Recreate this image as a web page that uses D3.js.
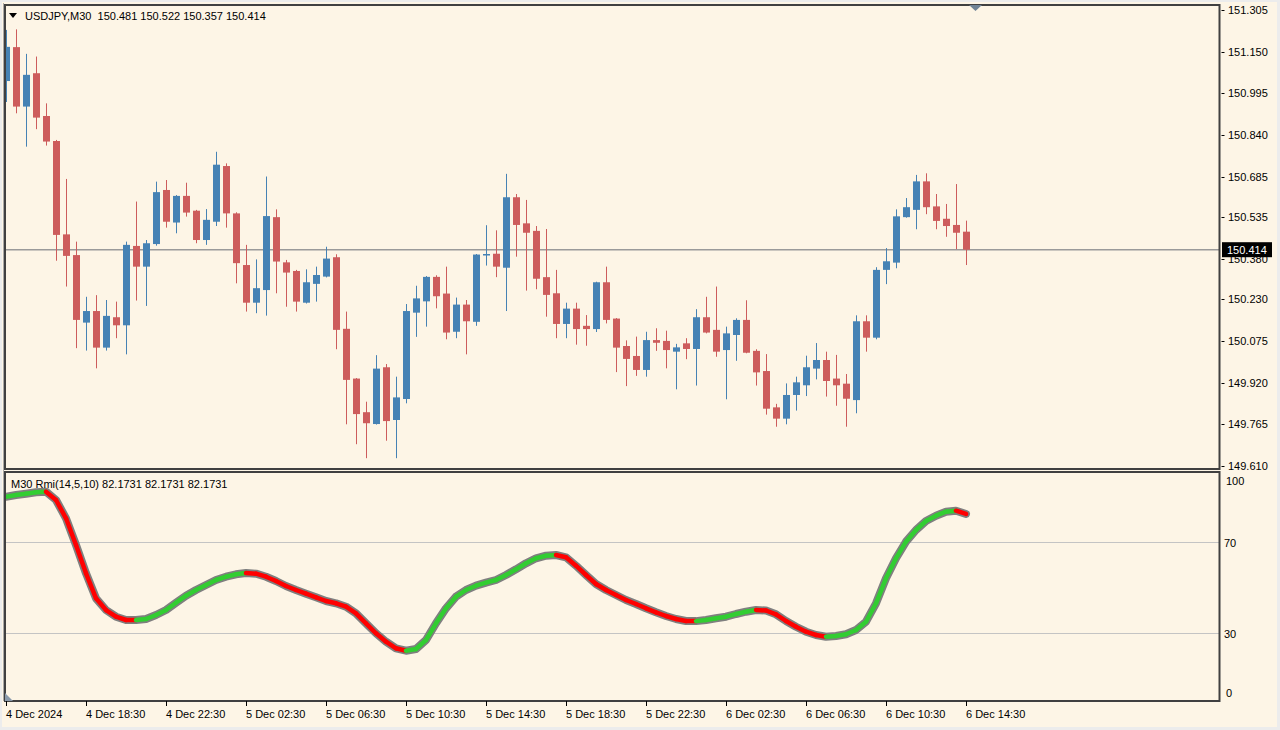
<!DOCTYPE html>
<html>
<head>
<meta charset="utf-8">
<script src="https://cdn.jsdelivr.net/npm/d3@7"></script>
<style>
  html, body { margin: 0; padding: 0; background: #ececec; }
  svg { display: block; }
  text { font-family: "Liberation Sans", Arial, sans-serif; font-size: 11px; fill: #000; }
</style>
</head>
<body>
<div id="chart"></div>
<script>
// USDJPY M30 candles, oldest first
const opens  = [151.041,151.167,150.946,151.070,150.911,150.818,150.471,150.394,150.143,150.186,
                150.050,150.163,150.133,150.428,150.351,150.435,150.636,150.515,150.614,150.559,
                150.450,150.518,150.725,150.549,150.357,150.217,150.264,150.535,150.367,150.335,
                150.217,150.287,150.314,150.386,150.120,149.935,149.810,149.766,149.977,149.781,
                149.859,150.180,150.222,150.313,150.251,150.109,150.210,150.146,150.393,150.399,
                150.347,150.609,150.512,150.484,150.312,150.252,150.138,150.195,150.131,150.119,
                150.293,150.158,150.056,150.019,149.967,150.078,150.075,150.035,150.066,150.045,
                150.163,150.116,150.041,150.097,150.153,150.038,149.963,149.828,149.786,149.874,
                149.910,149.972,150.004,149.935,149.916,149.855,150.148,150.087,150.339,150.366,
                150.535,150.562,150.668,150.575,150.529,150.506,150.481]
const highs  = [151.231,151.233,151.142,151.132,150.958,150.822,150.677,150.444,150.239,150.245,
                150.227,150.221,150.444,150.593,150.450,150.667,150.673,150.617,150.663,150.562,
                150.565,150.778,150.735,150.553,150.432,150.378,150.686,150.564,150.376,150.339,
                150.341,150.351,150.425,150.397,150.184,149.937,149.849,150.022,149.989,149.942,
                150.212,150.280,150.316,150.319,150.351,150.236,150.227,150.398,150.505,150.486,
                150.696,150.621,150.599,150.502,150.491,150.339,150.217,150.217,150.171,150.295,
                150.351,150.160,150.077,150.091,150.109,150.122,150.113,150.064,150.085,150.193,
                150.239,150.277,150.128,150.159,150.226,150.044,150.026,149.841,149.917,149.942,
                150.020,150.067,150.035,150.023,149.952,150.170,150.170,150.349,150.420,150.564,
                150.606,150.692,150.698,150.621,150.584,150.658,150.522]
const lows   = [150.963,150.921,150.797,150.862,150.801,150.373,150.277,150.048,150.039,149.973,
                150.039,150.085,150.025,150.225,150.205,150.429,150.496,150.475,150.537,150.438,
                150.432,150.502,150.496,150.289,150.184,150.178,150.169,150.252,150.202,150.184,
                150.214,150.221,150.311,150.044,149.765,149.691,149.639,149.764,149.704,149.639,
                149.843,150.090,150.128,150.196,150.081,150.085,150.025,150.131,150.355,150.312,
                150.186,150.388,150.262,150.267,150.165,150.085,150.085,150.061,150.057,150.108,
                150.140,149.959,149.907,149.945,149.942,150.038,149.973,149.895,150.007,149.909,
                150.103,150.016,149.858,150.001,150.029,149.909,149.801,149.756,149.765,149.816,
                149.870,149.932,149.868,149.834,149.756,149.806,150.035,150.081,150.286,150.345,
                150.533,150.490,150.546,150.490,150.462,150.416,150.357]
const closes = [151.168,150.946,151.064,150.905,150.816,150.469,150.391,150.153,150.186,150.050,
                150.168,150.133,150.432,150.351,150.438,150.628,150.518,150.614,150.552,150.450,
                150.525,150.730,150.549,150.364,150.217,150.271,150.539,150.370,150.329,150.221,
                150.293,150.320,150.381,150.116,149.930,149.803,149.769,149.972,149.777,149.865,
                150.186,150.233,150.313,150.241,150.106,150.210,150.148,150.396,150.398,150.351,
                150.609,150.506,150.477,150.306,150.246,150.138,150.195,150.119,150.119,150.293,
                150.153,150.050,150.008,149.967,150.078,150.068,150.041,150.051,150.045,150.163,
                150.106,150.035,150.103,150.153,150.031,149.958,149.823,149.786,149.874,149.921,
                149.977,150.004,149.926,149.910,149.860,150.148,150.087,150.339,150.371,150.538,
                150.572,150.668,150.572,150.521,150.502,150.477,150.414]

// Rmi(14,5,10) values per bar
const rmi = [89.76,90.51,91.08,91.70,91.96,88.31,80.27,68.54,56.11,45.12,
             39.98,37.04,35.59,35.55,36.03,37.79,39.98,43.19,46.27,48.77,
             50.97,53.16,54.61,55.67,56.24,55.93,54.61,52.72,50.53,48.77,
             47.14,45.56,43.94,42.93,41.43,38.53,34.14,29.75,26.05,23.15,
             22.10,22.85,26.80,34.14,40.73,45.83,48.77,50.66,51.98,53.16,
             55.36,57.86,60.50,62.70,63.84,64.15,63.14,59.45,55.36,51.41,
             48.77,46.57,44.38,42.62,40.73,38.97,37.35,36.03,35.15,35.10,
             35.59,36.34,37.04,38.22,39.24,39.98,39.76,38.09,35.15,32.64,
             30.45,29.00,28.25,28.56,29.31,31.19,34.84,42.93,53.91,62.70,
             69.99,75.13,79.09,81.41,83.17,83.61,82.17]

const priceTicks = [151.305,151.150,150.995,150.840,150.685,150.535,150.380,150.230,150.075,149.920,149.765,149.610]
const rmiTicks = [100, 70, 30, 0]
const rmiLevels = [70, 30]
const timeLabels = ["4 Dec 2024","4 Dec 18:30","4 Dec 22:30","5 Dec 02:30","5 Dec 06:30","5 Dec 10:30",
                    "5 Dec 14:30","5 Dec 18:30","5 Dec 22:30","6 Dec 02:30","6 Dec 06:30","6 Dec 10:30","6 Dec 14:30"]
const labelEvery = 8
const lastPrice = 150.414

const W = 1280, H = 730
const left = 5, axisX = 1219.5
const main = {top: 5, bottom: 469}
const sub = {top: 472, bottom: 701}
const bg = "#fdf5e6", frame = "#404040"
const bull = "#4682b4", bear = "#cd5c5c"

let svg = d3.select("#chart").append("svg").attr("width", W).attr("height", H)

svg.append("rect").attr("x", 2).attr("y", 2).attr("width", W - 5).attr("height", H - 5).attr("fill", bg)

let x = d3.scaleLinear().domain([0, closes.length - 1]).range([6, 966])
let y = d3.scaleLinear().domain([149.610, 151.305]).range([466, 10])
let yr = d3.scaleLinear().domain([0, 100]).range([sub.bottom, 473.4])

// clip candles / line to their panels
let defs = svg.append("defs")
defs.append("clipPath").attr("id", "mainClip").append("rect")
    .attr("x", left + 1).attr("y", main.top + 1).attr("width", axisX - left - 1).attr("height", main.bottom - main.top - 1)
defs.append("clipPath").attr("id", "subClip").append("rect")
    .attr("x", left + 1).attr("y", sub.top + 1).attr("width", axisX - left - 1).attr("height", sub.bottom - sub.top - 1)

// current price line
svg.append("line")
    .attr("x1", left).attr("x2", axisX)
    .attr("y1", y(lastPrice)).attr("y2", y(lastPrice))
    .attr("stroke", "#9a9a9a").attr("stroke-width", 1.5)

// candles
let bars = svg.append("g").attr("clip-path", "url(#mainClip)")
    .selectAll("g").data(d3.range(closes.length)).enter().append("g")

bars.append("line")
    .attr("x1", i => Math.round(x(i)) + 0.5).attr("x2", i => Math.round(x(i)) + 0.5)
    .attr("y1", i => y(highs[i])).attr("y2", i => y(lows[i]))
    .attr("stroke", i => closes[i] >= opens[i] ? bull : bear)
    .attr("stroke-width", 1)

bars.append("rect")
    .attr("x", i => Math.round(x(i)) - 3)
    .attr("width", 7)
    .attr("y", i => y(Math.max(opens[i], closes[i])))
    .attr("height", i => Math.max(1.5, Math.abs(y(opens[i]) - y(closes[i]))))
    .attr("fill", i => closes[i] >= opens[i] ? bull : bear)

// RMI levels
svg.append("g").selectAll("line").data(rmiLevels).enter().append("line")
    .attr("x1", left).attr("x2", axisX)
    .attr("y1", d => Math.round(yr(d)) + 0.5).attr("y2", d => Math.round(yr(d)) + 0.5)
    .attr("stroke", "#c4c4c4").attr("stroke-width", 1)

// RMI line: gray halo, then up/down coloured segments
let rmiG = svg.append("g").attr("clip-path", "url(#subClip)")
let rmiLine = d3.line().x((d, i) => x(i)).y(d => yr(d))
rmiG.append("path").datum(rmi).attr("d", rmiLine)
    .attr("fill", "none").attr("stroke", "#7f7f7f").attr("stroke-width", 8)
    .attr("stroke-linejoin", "round").attr("stroke-linecap", "round")
rmiG.selectAll("line.seg").data(d3.range(rmi.length - 1)).enter().append("line")
    .attr("class", "seg")
    .attr("x1", i => x(i)).attr("y1", i => yr(rmi[i]))
    .attr("x2", i => x(i + 1)).attr("y2", i => yr(rmi[i + 1]))
    .attr("stroke", i => rmi[i + 1] >= rmi[i] ? "#32cd32" : "#ff0000")
    .attr("stroke-width", 4.5).attr("stroke-linecap", "round")

// frames
let frames = svg.append("g").attr("fill", "none").attr("stroke", frame).attr("stroke-width", 2)
frames.append("rect").attr("x", left).attr("y", main.top).attr("width", axisX - left).attr("height", main.bottom - main.top)
frames.append("rect").attr("x", left).attr("y", sub.top).attr("width", axisX - left).attr("height", sub.bottom - sub.top)
svg.append("line").attr("x1", 3.5).attr("x2", 3.5).attr("y1", 3).attr("y2", sub.bottom)
    .attr("stroke", "#a8a8a8").attr("stroke-width", 1)

// price axis
let pa = svg.append("g")
pa.selectAll("line").data(priceTicks).enter().append("line")
    .attr("x1", axisX + 2).attr("x2", axisX + 5)
    .attr("y1", d => Math.round(y(d)) + 0.5).attr("y2", d => Math.round(y(d)) + 0.5)
    .attr("stroke", "#000")
pa.selectAll("text").data(priceTicks).enter().append("text")
    .attr("x", 1228).attr("y", d => y(d)).attr("dy", "0.36em")
    .text(d => d.toFixed(3))

// last price tag
svg.append("rect").attr("x", 1222).attr("y", y(lastPrice) - 7.5).attr("width", 50).attr("height", 15).attr("fill", "#000")
svg.append("text").attr("x", 1227).attr("y", y(lastPrice)).attr("dy", "0.36em")
    .style("fill", "#fff").text(lastPrice.toFixed(3))

// RMI axis
svg.append("g").selectAll("text").data(rmiTicks).enter().append("text")
    .attr("x", d => d === 70 || d === 30 ? 1224 : 1226)
    .attr("y", d => d === 100 ? 481 : d === 0 ? 693 : yr(d) + 1)
    .attr("dy", "0.36em")
    .text(d => d)

// time axis
let ta = svg.append("g")
let tickIdx = timeLabels.map((t, k) => k * labelEvery)
ta.selectAll("line").data(tickIdx).enter().append("line")
    .attr("x1", i => Math.round(x(i)) + 0.5).attr("x2", i => Math.round(x(i)) + 0.5)
    .attr("y1", sub.bottom).attr("y2", sub.bottom + 5)
    .attr("stroke", "#000")
ta.selectAll("text").data(tickIdx).enter().append("text")
    .attr("x", i => Math.round(x(i))).attr("y", 718)
    .text((i, k) => timeLabels[k])

// titles
svg.append("path").attr("d", "M9,13 L17,13 L13,18 Z").attr("fill", "#000")
svg.append("text").attr("x", 25).attr("y", 20)
    .text("USDJPY,M30  " + [opens, highs, lows, closes].map(a => a[a.length - 1].toFixed(3)).join(" "))
    .attr("xml:space", "preserve").style("white-space", "pre")
svg.append("text").attr("x", 11).attr("y", 488)
    .text("M30 Rmi(14,5,10) " + d3.range(3).map(() => "82.1731").join(" "))

// shift markers
svg.append("path").attr("d", "M969,5 L982,5 L975.5,11 Z").attr("fill", "#6f8396")
svg.append("path").attr("d", "M5,693 L5,701 L13,701 Z").attr("fill", "#8a9aab")
</script>
</body>
</html>
